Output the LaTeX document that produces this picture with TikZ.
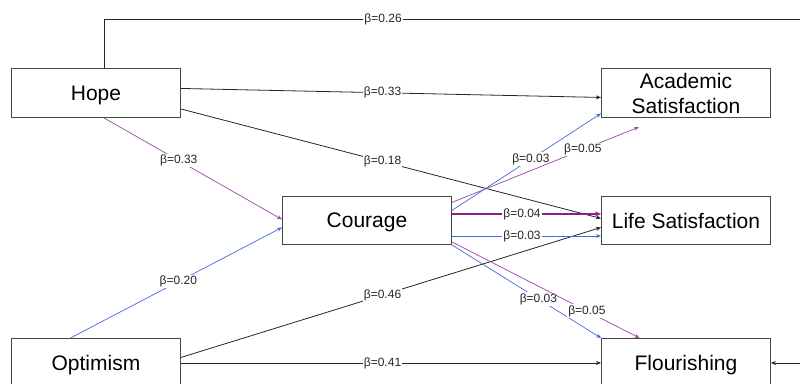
\documentclass[tikz,border=0pt]{standalone}
\usepackage{fontspec}
\setmainfont{Liberation Sans}
\usetikzlibrary{arrows.meta}
\definecolor{pblue}{RGB}{70,105,220}
\definecolor{ppurp}{RGB}{155,70,165}
\definecolor{ppurpd}{RGB}{145,30,130}
\definecolor{boxline}{RGB}{70,70,70}
\begin{document}
\begin{tikzpicture}[x=1pt,y=-1pt,
  box/.style={draw=boxline,line width=0.9pt,minimum width=169pt,inner sep=0pt,
    font=\fontsize{21}{25}\selectfont,align=center,anchor=north west,text depth=0pt},
  lab/.style={fill=white,inner sep=1.2pt,font=\fontsize{12}{13}\selectfont,text=black!85},
  tip/.style={-{Stealth[length=5pt,width=4pt]}},
  blk/.style={tip,color=black!85,line width=0.8pt},
  blu/.style={tip,color=pblue,line width=0.7pt},
  pur/.style={tip,color=ppurp,line width=0.7pt},
  purthick/.style={-{Stealth[length=6pt,width=5pt]},color=ppurpd,line width=1.8pt}]
\useasboundingbox (0,0) rectangle (800,383);
\clip (0,0) rectangle (800,383);
\fill[white] (0,0) rectangle (800,383);

\node[box,minimum height=49pt] (hope) at (11,68) {Hope};
\node[box,minimum height=49pt] (acad) at (601,68) {Academic\\Satisfaction};
\node[box,minimum height=48pt] (courage) at (282,196) {Courage};
\node[box,minimum height=48pt] (life) at (601,196) {Life Satisfaction};
\node[box,minimum height=49pt] (opt) at (11,338) {Optimism};
\node[box,minimum height=49pt] (flour) at (601,338) {Flourishing};

\coordinate (farR) at (830,19);
\coordinate (acadfree) at (639,127);
\coordinate (cl1) at ([yshift=6.5pt]courage.east);
\coordinate (ll1) at ([yshift=6.5pt]life.west);
\coordinate (cl2) at ([yshift=-15.5pt]courage.east);
\coordinate (ll2) at ([yshift=-15.5pt]life.west);

% Hope -> Flourishing (around the top)
\draw[blk] ([xshift=8.5pt]hope.north) -- ([xshift=8.5pt]hope.north |- farR)
  -- node[lab,pos=0.384] (l26) {β=0.26} (farR) -- (farR |- flour.east) -- (flour.east);
% Hope -> Academic
\draw[blk] ([yshift=4.5pt]hope.east) -- node[lab,pos=0.48] (l33a) {β=0.33} ([yshift=-4.5pt]acad.west);
% Hope -> Life
\draw[blk] ([yshift=-16pt]hope.east) -- node[lab,pos=0.48] (l18) {β=0.18} ([yshift=2pt]life.west);
% Hope -> Courage
\draw[pur] ([xshift=8pt]hope.south) -- node[lab,pos=0.42] (l33b) {β=0.33} ([yshift=1pt]courage.west);
% Optimism -> Courage
\draw[blu] ([xshift=-25.5pt]opt.north) -- node[lab,pos=0.51] (l20) {β=0.20} ([yshift=-7pt]courage.west);
% Optimism -> Life
\draw[blk] ([yshift=5.5pt]opt.east) -- node[lab,pos=0.48] (l46) {β=0.46} ([yshift=-7pt]life.west);
% Optimism -> Flourishing
\draw[blk] (opt.east) -- node[lab,pos=0.48] (l41) {β=0.41} (flour.west);

% Courage -> Academic
\draw[blu] ([yshift=10pt]courage.east) -- node[lab,pos=0.53] (lc1) {β=0.03} ([yshift=-20.5pt]acad.west);
\draw[pur] ([yshift=18pt]courage.east) -- node[lab,pos=0.70] (lc2) {β=0.05} (acadfree);
% Courage -> Life
\draw[purthick] (cl1) -- node[lab,pos=0.47] (lc3) {β=0.04} (ll1);
\draw[blu,line width=0.9pt] (cl2) -- node[lab,pos=0.47] (lc4) {β=0.03} (ll2);
% Courage -> Flourishing
\draw[blu] (courage.south east) -- node[lab,pos=0.58] (lc5) {β=0.03} (flour.north west);
\draw[pur] ([yshift=3pt]courage.south east) -- node[lab,pos=0.72] (lc6) {β=0.05} ([xshift=-46.5pt]flour.north);
\end{tikzpicture}
\end{document}
